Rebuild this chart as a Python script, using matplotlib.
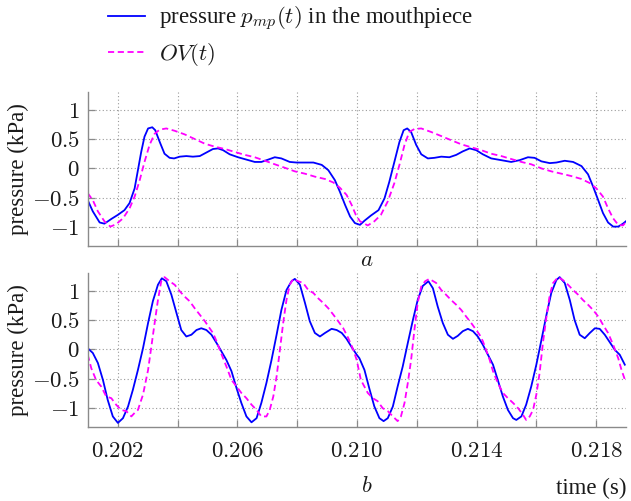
import matplotlib
matplotlib.use('Agg')
import matplotlib.pyplot as plt

plt.rcParams['font.family'] = ['Liberation Serif', 'DejaVu Serif']
plt.rcParams['mathtext.fontset'] = 'cm'

# ---- panel a : mouthpiece pressure and OV signal (kPa) ----
a_t_pmp = [0.20099, 0.20116, 0.20139, 0.20155, 0.20178, 0.20200, 0.20222, 0.20239, 0.20256, 0.20267,
           0.20278, 0.20289, 0.20301, 0.20315, 0.20325, 0.20340, 0.20356, 0.20373, 0.20388, 0.20407,
           0.20429, 0.20451, 0.20474, 0.20496, 0.20518, 0.20535, 0.20552, 0.20574, 0.20602, 0.20630,
           0.20658, 0.20680, 0.20703, 0.20725, 0.20747, 0.20775, 0.20798, 0.20826, 0.20854, 0.20882,
           0.20904, 0.20926, 0.20943, 0.20960, 0.20977, 0.20993, 0.21010,
           0.21025, 0.21047, 0.21072, 0.21092, 0.21108, 0.21125, 0.21142, 0.21156, 0.21168, 0.21181,
           0.21198, 0.21215, 0.21237, 0.21259, 0.21282, 0.21309, 0.21332, 0.21354, 0.21377, 0.21399,
           0.21421, 0.21449, 0.21483, 0.21516, 0.21544, 0.21572, 0.21594, 0.21617, 0.21645, 0.21667,
           0.21695, 0.21723, 0.21751, 0.21773, 0.21790, 0.21807, 0.21823, 0.21840, 0.21857, 0.21874,
           0.21890, 0.21902]
a_pmp = [-0.54, -0.73, -0.92, -0.94, -0.86, -0.79, -0.71, -0.59, -0.34, -0.03,
         0.28, 0.54, 0.68, 0.70, 0.65, 0.45, 0.25, 0.18, 0.17, 0.20,
         0.21, 0.20, 0.21, 0.27, 0.33, 0.34, 0.31, 0.24, 0.19, 0.15,
         0.11, 0.11, 0.15, 0.19, 0.17, 0.11, 0.10, 0.10, 0.10, 0.06,
         -0.03, -0.20, -0.40, -0.62, -0.82, -0.93, -0.96,
         -0.89, -0.80, -0.71, -0.51, -0.23, 0.11, 0.45, 0.65, 0.68, 0.62,
         0.40, 0.24, 0.17, 0.18, 0.20, 0.19, 0.23, 0.29, 0.34, 0.31,
         0.24, 0.17, 0.14, 0.11, 0.14, 0.19, 0.18, 0.12, 0.09, 0.10,
         0.13, 0.11, 0.04, -0.10, -0.31, -0.54, -0.76, -0.92, -0.99, -0.99,
         -0.94, -0.89]

a_t_ov = [0.20099, 0.20116, 0.20133, 0.20155, 0.20175, 0.20194, 0.20217, 0.20239, 0.20256, 0.20273,
          0.20289, 0.20306, 0.20323, 0.20340, 0.20362, 0.20390, 0.20423, 0.20457, 0.20491, 0.20524,
          0.20558, 0.20591, 0.20625, 0.20658, 0.20692, 0.20725, 0.20759, 0.20792, 0.20826, 0.20859,
          0.20893, 0.20921, 0.20943, 0.20965, 0.20982, 0.20996, 0.21010,
          0.21036, 0.21058, 0.21080, 0.21103, 0.21125, 0.21142, 0.21159, 0.21175, 0.21192, 0.21215,
          0.21248, 0.21282, 0.21315, 0.21349, 0.21382, 0.21416, 0.21449, 0.21483, 0.21516, 0.21550,
          0.21583, 0.21617, 0.21650, 0.21684, 0.21717, 0.21751, 0.21779, 0.21801, 0.21823, 0.21840,
          0.21857, 0.21874, 0.21890, 0.21902]
a_ov = [-0.42, -0.54, -0.73, -0.90, -0.99, -0.95, -0.85, -0.68, -0.48, -0.20,
        0.11, 0.40, 0.59, 0.66, 0.68, 0.64, 0.58, 0.50, 0.42, 0.37,
        0.33, 0.28, 0.23, 0.19, 0.13, 0.07, 0.01, -0.05, -0.09, -0.14,
        -0.18, -0.24, -0.33, -0.45, -0.62, -0.79, -0.90,
        -0.97, -0.90, -0.79, -0.56, -0.25, 0.06, 0.40, 0.62, 0.67, 0.68,
        0.62, 0.55, 0.48, 0.41, 0.36, 0.31, 0.25, 0.21, 0.16, 0.11,
        0.07, 0.00, -0.05, -0.09, -0.13, -0.18, -0.25, -0.34, -0.48, -0.68,
        -0.85, -0.96, -0.97, -0.90]

# ---- panel b ----
b_t_pmp = [0.20099, 0.20116, 0.20133, 0.20150, 0.20166, 0.20183, 0.20200, 0.20217, 0.20234, 0.20250,
           0.20267, 0.20284, 0.20301, 0.20317, 0.20334, 0.20347, 0.20362, 0.20379, 0.20396, 0.20412,
           0.20429, 0.20446, 0.20463, 0.20479, 0.20496, 0.20513, 0.20530, 0.20546, 0.20563, 0.20580,
           0.20597, 0.20613, 0.20630, 0.20647, 0.20664, 0.20680, 0.20697, 0.20714, 0.20731, 0.20747,
           0.20764, 0.20781, 0.20792, 0.20809, 0.20826, 0.20842, 0.20859, 0.20876, 0.20893, 0.20915,
           0.20932, 0.20949, 0.20965, 0.20982, 0.20999,
           0.21008, 0.21025, 0.21041, 0.21058, 0.21075, 0.21089, 0.21103, 0.21120, 0.21136, 0.21153,
           0.21170, 0.21187, 0.21203, 0.21220, 0.21239, 0.21254, 0.21270, 0.21287, 0.21304, 0.21321,
           0.21337, 0.21354, 0.21371, 0.21388, 0.21404, 0.21421, 0.21438, 0.21455, 0.21471, 0.21488,
           0.21505, 0.21522, 0.21533, 0.21550, 0.21566, 0.21583, 0.21600, 0.21617, 0.21634, 0.21650,
           0.21667, 0.21678, 0.21695, 0.21712, 0.21728, 0.21745, 0.21762, 0.21779, 0.21796, 0.21812,
           0.21829, 0.21846, 0.21863, 0.21879, 0.21896]
b_pmp = [0.02, -0.06, -0.23, -0.52, -0.86, -1.14, -1.25, -1.17, -0.97, -0.69,
         -0.35, 0.02, 0.45, 0.82, 1.10, 1.21, 1.16, 0.93, 0.62, 0.33,
         0.22, 0.25, 0.33, 0.36, 0.33, 0.25, 0.11, -0.03, -0.18, -0.37,
         -0.66, -0.91, -1.14, -1.24, -1.17, -0.91, -0.57, -0.18, 0.25, 0.67,
         1.01, 1.16, 1.20, 1.10, 0.79, 0.48, 0.28, 0.22, 0.28, 0.35,
         0.33, 0.28, 0.18, 0.04, -0.09,
         -0.15, -0.35, -0.66, -0.97, -1.17, -1.22, -1.17, -0.97, -0.63, -0.29,
         0.11, 0.50, 0.84, 1.08, 1.16, 1.04, 0.73, 0.45, 0.25, 0.18,
         0.23, 0.31, 0.35, 0.31, 0.22, 0.08, -0.09, -0.26, -0.52, -0.80,
         -1.03, -1.17, -1.20, -1.14, -0.94, -0.63, -0.26, 0.16, 0.59, 0.96,
         1.18, 1.23, 1.13, 0.84, 0.50, 0.25, 0.19, 0.28, 0.36, 0.35,
         0.25, 0.12, -0.01, -0.09, -0.26]

b_t_ov = [0.20099, 0.20111, 0.20127, 0.20144, 0.20161, 0.20178, 0.20194, 0.20211, 0.20228, 0.20245,
          0.20256, 0.20267, 0.20284, 0.20301, 0.20312, 0.20323, 0.20334, 0.20345, 0.20356, 0.20373,
          0.20390, 0.20407, 0.20423, 0.20440, 0.20457, 0.20474, 0.20491, 0.20507, 0.20518, 0.20530,
          0.20541, 0.20552, 0.20563, 0.20580, 0.20597, 0.20613, 0.20630, 0.20647, 0.20664, 0.20680,
          0.20697, 0.20708, 0.20720, 0.20731, 0.20742, 0.20753, 0.20764, 0.20775, 0.20787, 0.20803,
          0.20820, 0.20837, 0.20854, 0.20870, 0.20887, 0.20904, 0.20921, 0.20937, 0.20954, 0.20971,
          0.20988, 0.20999,
          0.21013, 0.21036, 0.21053, 0.21069, 0.21086, 0.21103, 0.21120, 0.21136, 0.21147, 0.21159,
          0.21170, 0.21181, 0.21192, 0.21203, 0.21215, 0.21228, 0.21242, 0.21265, 0.21282, 0.21298,
          0.21315, 0.21332, 0.21349, 0.21365, 0.21382, 0.21399, 0.21410, 0.21421, 0.21432, 0.21444,
          0.21455, 0.21471, 0.21488, 0.21505, 0.21522, 0.21539, 0.21555, 0.21566, 0.21578, 0.21589,
          0.21600, 0.21611, 0.21622, 0.21634, 0.21645, 0.21656, 0.21673, 0.21689, 0.21706, 0.21723,
          0.21740, 0.21756, 0.21773, 0.21790, 0.21807, 0.21823, 0.21840, 0.21857, 0.21874, 0.21885,
          0.21898]
b_ov = [-0.09, -0.32, -0.52, -0.63, -0.80, -0.83, -0.94, -1.03, -1.05, -1.14,
        -1.08, -1.03, -0.77, -0.35, 0.05, 0.45, 0.84, 1.16, 1.23, 1.16,
        1.10, 0.99, 0.90, 0.82, 0.70, 0.59, 0.48, 0.36, 0.28, 0.14,
        -0.01, -0.15, -0.29, -0.52, -0.63, -0.74, -0.83, -0.94, -1.03, -1.14,
        -1.14, -1.03, -0.80, -0.46, -0.01, 0.45, 0.84, 1.10, 1.20, 1.16,
        1.13, 1.01, 0.96, 0.87, 0.79, 0.70, 0.59, 0.48, 0.36, 0.19,
        -0.01, -0.18,
        -0.52, -0.74, -0.83, -0.88, -1.00, -1.05, -1.14, -1.22, -1.14, -0.91,
        -0.57, -0.18, 0.33, 0.79, 1.07, 1.16, 1.20, 1.13, 1.01, 0.93,
        0.84, 0.76, 0.67, 0.56, 0.45, 0.33, 0.25, 0.14, -0.01, -0.18,
        -0.37, -0.57, -0.74, -0.83, -0.91, -1.00, -1.11, -1.20, -1.14, -1.03,
        -0.77, -0.40, 0.11, 0.56, 0.93, 1.13, 1.23, 1.18, 1.10, 1.01,
        0.93, 0.84, 0.76, 0.67, 0.56, 0.42, 0.28, 0.08, -0.15, -0.35,
        -0.54]

x_ticks = [0.202, 0.204, 0.206, 0.208, 0.210, 0.212, 0.214, 0.216, 0.218]
x_labels = ['$0.202$', '', '$0.206$', '', '$0.210$', '', '$0.214$', '', '$0.218$']
y_ticks = [-1, -0.5, 0, 0.5, 1]
y_labels = ['$-1$', '$-0.5$', '$0$', '$0.5$', '$1$']

FS = 16.5
TXT = '#1a1a1a'
GRAY = '#8a8a8a'

fig = plt.figure(figsize=(6.31, 5.01), dpi=100)
W, H = 631.0, 501.0
ax_a = fig.add_axes([88 / W, (H - 246) / H, 538 / W, 154 / H])
ax_b = fig.add_axes([88 / W, (H - 427) / H, 538 / W, 154 / H])

l1, = ax_a.plot(a_t_pmp, a_pmp, color='#0000ff', lw=1.3)
l2, = ax_a.plot(a_t_ov, a_ov, color='#ff00ff', lw=1.3, dashes=(3.4, 2.0))
ax_b.plot(b_t_pmp, b_pmp, color='#0000ff', lw=1.3)
ax_b.plot(b_t_ov, b_ov, color='#ff00ff', lw=1.3, dashes=(3.4, 2.0))

for ax in (ax_a, ax_b):
    ax.set_xlim(0.201, 0.219)
    ax.set_ylim(-1.32, 1.3)
    ax.set_xticks(x_ticks)
    ax.set_yticks(y_ticks)
    ax.set_yticklabels(y_labels)
    for s in ('top', 'right'):
        ax.spines[s].set_visible(False)
    for s in ('left', 'bottom'):
        ax.spines[s].set_color(GRAY)
        ax.spines[s].set_linewidth(1.0)
    ax.tick_params(direction='in', length=5, width=0.9, color=GRAY,
                   labelsize=FS, labelcolor=TXT)
    ax.tick_params(axis='y', pad=6)
    ax.tick_params(axis='x', pad=10)
    ax.grid(True, color='#9a9a9a', linestyle=(0, (1, 2.2)), linewidth=0.8)
    ax.set_axisbelow(True)
    ax.set_ylabel('pressure (kPa)', fontsize=FS, color=TXT, labelpad=2)

ax_a.set_xticklabels([''] * len(x_ticks))
ax_b.set_xticklabels(x_labels)

# panel letters and axis name
fig.text(367 / W, 1 - 261 / H, '$a$', fontsize=FS, color=TXT, ha='center', va='center')
fig.text(367 / W, 1 - 487 / H, '$b$', fontsize=FS, color=TXT, ha='center', va='center')
fig.text(626 / W, 1 - 488 / H, 'time (s)', fontsize=FS, color=TXT, ha='right', va='center')

fig.legend([l1, l2], [r'pressure $p_{mp}(t)$ in the mouthpiece', r'$OV(t)$'],
           loc='upper left', bbox_to_anchor=(108 / W, 1 - 5 / H), frameon=False,
           fontsize=FS, handlelength=1.63, handletextpad=0.6, labelspacing=0.36,
           borderpad=0, borderaxespad=0, labelcolor=TXT)

fig.savefig('out.png', dpi=100)
